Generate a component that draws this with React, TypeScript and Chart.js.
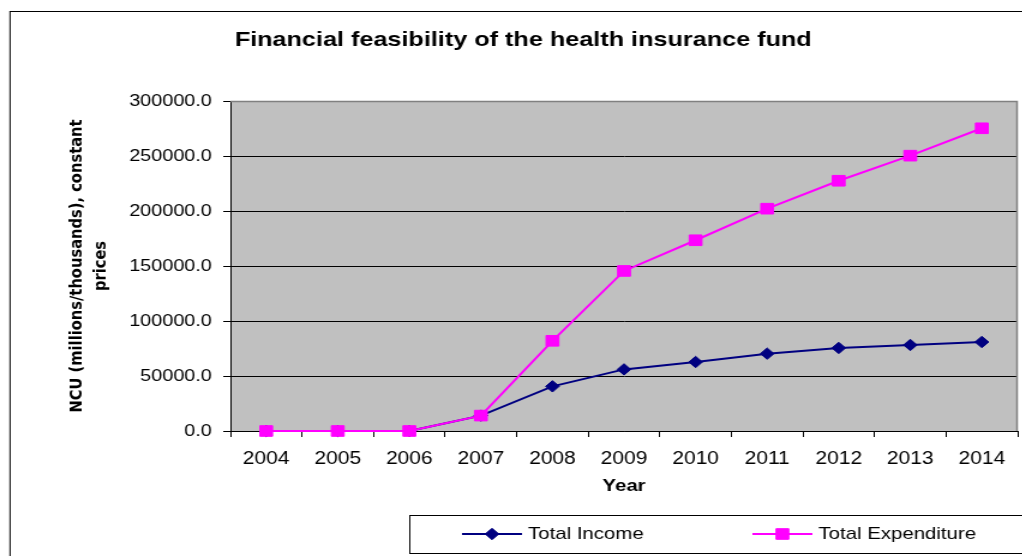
import React, { useEffect, useRef } from 'react';
import { Chart, registerables } from 'chart.js';

Chart.register(...registerables);

// ---- data ----
const years = ['2004', '2005', '2006', '2007', '2008', '2009', '2010', '2011', '2012', '2013', '2014'];
const totalIncome = [0, 0, 0, 14000, 40600, 56000, 62700, 70300, 75500, 78200, 80900];
const totalExpenditure = [0, 0, 0, 14000, 82000, 145500, 173400, 202100, 227500, 250300, 275200];
const yMin = 0;
const yMax = 300000;
const yStep = 50000;
const chartTitle = 'Financial feasibility of the health insurance fund';
const xTitle = 'Year';
const yTitle = ['NCU (millions/thousands), constant', 'prices'];

// ---- layout ----
const STRETCH = 1.2;
const CW = 872;
const CH = 556;
const FONT = '"Liberation Sans", Arial, sans-serif';

function drawMarker(ctx: CanvasRenderingContext2D, style: string, x: number, y: number, r: number, color: string) {
  ctx.save();
  ctx.fillStyle = color;
  ctx.strokeStyle = color;
  ctx.lineWidth = 1;
  ctx.beginPath();
  if (style === 'rectRot') {
    ctx.moveTo(x - r, y);
    ctx.lineTo(x, y - r);
    ctx.lineTo(x + r, y);
    ctx.lineTo(x, y + r);
    ctx.closePath();
  } else {
    const s = Math.SQRT1_2 * r;
    ctx.rect(x - s, y - s, 2 * s, 2 * s);
  }
  ctx.fill();
  ctx.stroke();
  ctx.restore();
}

const legendItemX = [385, 627];

const decorPlugin = {
  id: 'decor',
  beforeDraw(chart: any) {
    const { ctx, chartArea: a } = chart;
    ctx.save();
    ctx.fillStyle = '#ffffff';
    ctx.fillRect(0, 0, chart.width, chart.height);
    ctx.strokeStyle = '#000000';
    ctx.lineWidth = 1;
    ctx.strokeRect(8.33, 11.5, chart.width + 100, chart.height + 100);
    ctx.fillStyle = '#C0C0C0';
    ctx.fillRect(a.left, a.top, a.right - a.left, a.bottom - a.top);
    ctx.restore();
  },
  beforeDatasetsDraw(chart: any) {
    const { ctx, chartArea: a } = chart;
    ctx.save();
    ctx.strokeStyle = '#808080';
    ctx.lineWidth = 1.5;
    ctx.beginPath();
    ctx.moveTo(a.left, a.top + 0.5);
    ctx.lineTo(a.right - 0.5, a.top + 0.5);
    ctx.lineTo(a.right - 0.5, a.bottom);
    ctx.stroke();
    ctx.restore();
  },
  afterDraw(chart: any) {
    const { ctx } = chart;
    ctx.save();
    ctx.strokeStyle = '#000000';
    ctx.lineWidth = 1;
    ctx.strokeRect(341.5, 515.5, 700, 38);
    const y = 534;
    chart.data.datasets.forEach((ds: any, i: number) => {
      const x0 = legendItemX[i];
      ctx.strokeStyle = ds.borderColor;
      ctx.lineWidth = 2;
      ctx.beginPath();
      ctx.moveTo(x0, y);
      ctx.lineTo(x0 + 50, y);
      ctx.stroke();
      drawMarker(ctx, ds.pointStyle, x0 + 25, y, ds.pointRadius, ds.backgroundColor);
      ctx.fillStyle = '#000000';
      ctx.font = `17px ${FONT}`;
      ctx.textBaseline = 'middle';
      ctx.textAlign = 'left';
      ctx.fillText(ds.label, x0 + 55, y + 0.5);
    });
    ctx.restore();
  },
};

export default function App() {
  const ref = useRef<HTMLCanvasElement | null>(null);

  useEffect(() => {
    if (!ref.current) return;
    const chart = new Chart(ref.current, {
      type: 'line',
      data: {
        labels: years,
        datasets: [
          {
            label: 'Total Income',
            data: totalIncome,
            borderColor: '#000080',
            backgroundColor: '#000080',
            borderWidth: 2,
            pointStyle: 'rectRot',
            pointRadius: 5.7,
            pointBorderWidth: 1,
            pointBorderColor: '#000080',
            pointBackgroundColor: '#000080',
            tension: 0,
            fill: false,
            clip: false,
            order: 1,
          },
          {
            label: 'Total Expenditure',
            data: totalExpenditure,
            borderColor: '#FF00FF',
            backgroundColor: '#FF00FF',
            borderWidth: 2,
            pointStyle: 'rect',
            pointRadius: 7.5,
            pointBorderWidth: 1,
            pointBorderColor: '#FF00FF',
            pointBackgroundColor: '#FF00FF',
            tension: 0,
            fill: false,
            clip: false,
            order: 0,
          },
        ],
      },
      options: {
        responsive: false,
        animation: false,
        devicePixelRatio: 1,
        layout: { padding: { left: 24, right: 24, top: 0, bottom: 0 } },
        plugins: {
          legend: { display: false },
          tooltip: { enabled: false },
          title: {
            display: true,
            text: chartTitle,
            color: '#000000',
            font: { family: FONT, size: 21, weight: 'bold', lineHeight: 1.2 },
            padding: { top: 27.7, bottom: 48.1 },
          },
        },
        scales: {
          x: {
            type: 'category',
            offset: true,
            grid: {
              offset: true,
              drawOnChartArea: false,
              drawTicks: true,
              tickLength: 6,
              color: '#000000',
            },
            border: { color: '#000000', width: 1 },
            ticks: {
              color: '#000000',
              font: { family: FONT, size: 17.5 },
              padding: 11.5,
              maxRotation: 0,
              autoSkip: false,
            },
            title: {
              display: true,
              text: xTitle,
              color: '#000000',
              font: { family: FONT, size: 17, weight: 'bold', lineHeight: 1.2 },
              padding: { top: 0, bottom: 59 },
            },
            afterFit(s: any) {
              s.height = 125;
            },
          },
          y: {
            min: yMin,
            max: yMax,
            grid: { color: '#000000', lineWidth: 1, tickLength: 6, drawTicks: true },
            border: { color: '#000000', width: 1 },
            ticks: {
              stepSize: yStep,
              color: '#000000',
              font: { family: FONT, size: 16.5 },
              padding: 9.5,
              callback: (v: any) => Number(v).toFixed(1),
            },
            title: {
              display: true,
              text: yTitle,
              color: '#000000',
              font: { family: '"DejaVu Sans", sans-serif', size: 14.7, weight: 'bold', lineHeight: 1.39 },
              padding: { top: 29.5, bottom: 0 },
            },
            afterFit(s: any) {
              s.width = 168;
            },
          },
        },
      },
      plugins: [decorPlugin],
    } as any);
    return () => chart.destroy();
  }, []);

  return (
    <div
      style={{
        position: 'fixed',
        left: 0,
        top: 0,
        width: 1022,
        height: 556,
        overflow: 'hidden',
        background: '#ffffff',
      }}
    >
      <canvas
        ref={ref}
        width={CW}
        height={CH}
        style={{
          width: CW,
          height: CH,
          display: 'block',
          transform: `scaleX(${STRETCH})`,
          transformOrigin: '0 0',
        }}
      />
    </div>
  );
}
